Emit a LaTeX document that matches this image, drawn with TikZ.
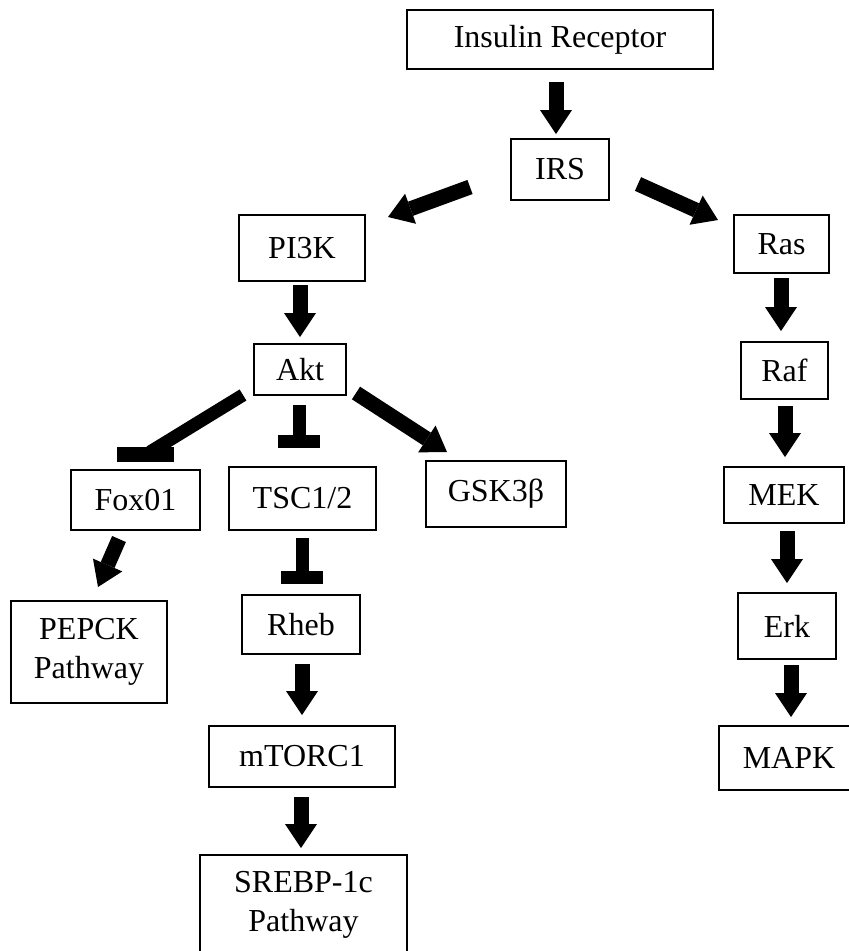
\documentclass[tikz,border=0pt]{standalone}
\usepackage{fontspec}
\setmainfont{Liberation Serif}
\usetikzlibrary{arrows.meta}
\begin{document}
\begin{tikzpicture}[x=0.75pt,y=-0.75pt,
  box/.style={draw,line width=1.4pt,inner sep=0pt,align=center,font=\fontsize{24}{29}\selectfont},
  arr/.style={line width=11.25pt,-{Triangle[width=24pt,length=18pt,line width=0pt]}},
  inh/.style={line width=9.75pt,-{Rectangle[width=31.5pt,length=9.75pt,line width=0pt]}},
  inhshaft/.style={line width=9.75pt},
  barfill/.style={fill=black}]
\useasboundingbox (0,0) rectangle (849,951);
% boxes
\node[box,minimum width=229.5pt,minimum height=44.25pt] (ir) at (560,39.5) {Insulin Receptor};
\node[box,minimum width=73.5pt,minimum height=45.75pt] (irs) at (560,169.5) {IRS};
\node[box,minimum width=94.5pt,minimum height=49.5pt] (pi3k) at (302,248) {PI3K};
\node[box,minimum width=71.25pt,minimum height=43.5pt] (ras) at (781.5,244) {Ras};
\node[box,minimum width=69pt,minimum height=38.25pt] (akt) at (300,369.5) {Akt};
\node[box,minimum width=65.25pt,minimum height=42.75pt] (raf) at (784.5,370.5) {Raf};
\node[box,minimum width=96.75pt,minimum height=45pt] (fox) at (135.5,500) {Fox01};
\node[box,minimum width=110.25pt,minimum height=47.25pt] (tsc) at (302.5,498.5) {TSC1/2};
\node[box,minimum width=105pt,minimum height=49.5pt] (gsk) at (496,494) {GSK3β};
\node[box,minimum width=90pt,minimum height=42pt] (mek) at (784,495) {MEK};
\node[box,minimum width=117pt,minimum height=76.5pt] (pepck) at (89,652) {PEPCK\\Pathway};
\node[box,minimum width=88.5pt,minimum height=44.25pt] (rheb) at (301,624.5) {Rheb};
\node[box,minimum width=73.5pt,minimum height=49.5pt] (erk) at (787,626) {Erk};
\node[box,minimum width=139.5pt,minimum height=45.75pt] (mtorc) at (302,756.5) {mTORC1};
\node[box,minimum width=105pt,minimum height=48pt] (mapk) at (789,758) {MAPK};
\node[box,minimum width=155.25pt,minimum height=75pt] (srebp) at (303.5,905) {SREBP-1c\\Pathway};
% connector end points
\coordinate (a1s) at (556,82);   \coordinate (a1e) at (556,134);
\coordinate (a2s) at (470,187);  \coordinate (a2e) at (388,217);
\coordinate (a3s) at (638,184);  \coordinate (a3e) at (718,220);
\coordinate (a4s) at (300,285);  \coordinate (a4e) at (300,337);
\coordinate (a5s) at (243,395);  \coordinate (a5e) at (150,452);
\coordinate (a6s) at (299,405);  \coordinate (a6e) at (299,448);
\coordinate (a7s) at (356,393);  \coordinate (a7e) at (447,452);
\coordinate (a8s) at (119,539);  \coordinate (a8e) at (98,587);
\coordinate (a9s) at (302,538);  \coordinate (a9e) at (302,584);
\coordinate (a10s) at (302,664); \coordinate (a10e) at (302,715);
\coordinate (a11s) at (301,797); \coordinate (a11e) at (301,848);
\coordinate (a12s) at (781,278); \coordinate (a12e) at (781,331);
\coordinate (a13s) at (785,406); \coordinate (a13e) at (785,457);
\coordinate (a14s) at (787,531); \coordinate (a14e) at (787,583);
\coordinate (a15s) at (791,665); \coordinate (a15e) at (791,717);
% connectors
\draw[arr] (a1s) -- (a1e);
\draw[arr] (a2s) -- (a2e);
\draw[arr] (a3s) -- (a3e);
\draw[arr] (a4s) -- (a4e);
\draw[inhshaft] (a5s) -- (a5e);
\fill[barfill] (117,447) rectangle (174,462);
\draw[inh] (a6s) -- (a6e);
\draw[arr] (a7s) -- (a7e);
\draw[arr] (a8s) -- (a8e);
\draw[inh] (a9s) -- (a9e);
\draw[arr] (a10s) -- (a10e);
\draw[arr] (a11s) -- (a11e);
\draw[arr] (a12s) -- (a12e);
\draw[arr] (a13s) -- (a13e);
\draw[arr] (a14s) -- (a14e);
\draw[arr] (a15s) -- (a15e);
\end{tikzpicture}
\end{document}
